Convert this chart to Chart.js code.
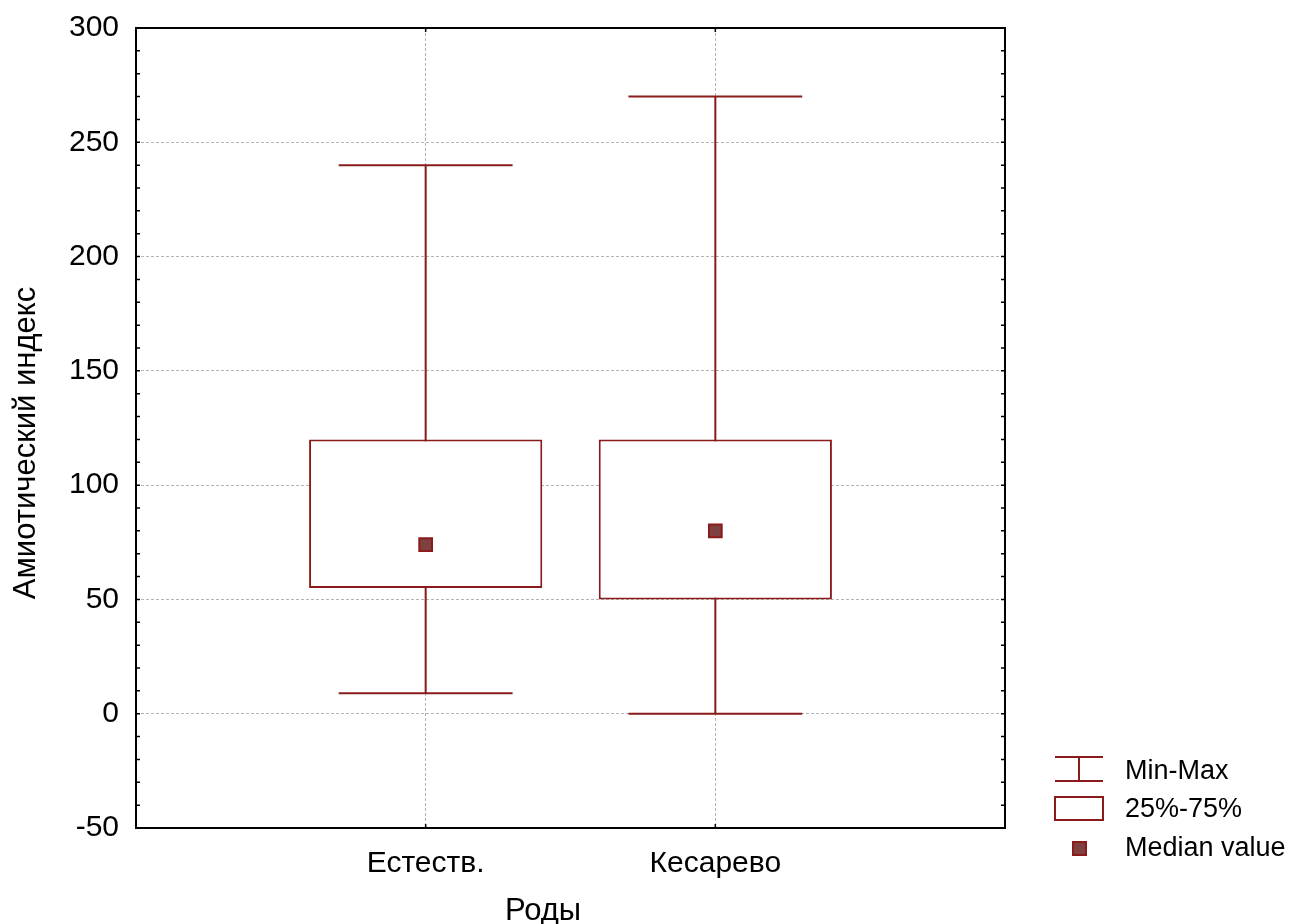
<!DOCTYPE html>
<html>
<head>
<meta charset="utf-8">
<script src="https://cdn.jsdelivr.net/npm/chart.js@4/dist/chart.umd.min.js"></script>
<style>
  html, body { margin: 0; padding: 0; background: #fff; }
  #wrap { width: 1291px; height: 924px; }
</style>
</head>
<body>
<div id="wrap"><canvas id="c" width="1291" height="924"></canvas></div>
<script>
// Amniotic index by mode of delivery
const categories = ['', 'Естеств.', 'Кесарево', ''];
const minValues = [null, 9, 0, null];
const q1Values = [null, 55, 50, null];
const medianValues = [null, 74, 80, null];
const q3Values = [null, 120, 120, null];
const maxValues = [null, 240, 270, null];
const yTickLabels = [-50, 0, 50, 100, 150, 200, 250, 300];

const xTitle = 'Роды';
const yTitle = 'Амиотический индекс';
const legendLabels = ['Min-Max', '25%-75%', 'Median value'];

const RED = '#8b1a1a';
const MED_FILL = '#7e4040';
const GRID = '#b4b4b4';
const FONT = '"Liberation Sans", Arial, sans-serif';

// whiskers (min-max) with caps, plot frame, inward ticks, titles and legend
const boxPlotExtras = {
  id: 'boxPlotExtras',
  beforeDatasetsDraw(chart) {
    const ctx = chart.ctx, xs = chart.scales.x, ys = chart.scales.y;
    const cat = xs.getPixelForValue(1) - xs.getPixelForValue(0);
    ctx.save();
    ctx.strokeStyle = RED;
    ctx.lineWidth = 2;
    for (let i = 0; i < categories.length; i++) {
      if (minValues[i] == null) continue;
      const x = xs.getPixelForValue(i);
      const yMin = ys.getPixelForValue(minValues[i]);
      const yMax = ys.getPixelForValue(maxValues[i]);
      const half = cat * 0.3;
      ctx.beginPath();
      ctx.moveTo(x, yMin); ctx.lineTo(x, yMax);
      ctx.moveTo(x - half, yMin); ctx.lineTo(x + half, yMin);
      ctx.moveTo(x - half, yMax); ctx.lineTo(x + half, yMax);
      ctx.stroke();
    }
    ctx.restore();
  },
  afterDraw(chart) {
    const ctx = chart.ctx, a = chart.chartArea, xs = chart.scales.x, ys = chart.scales.y;
    ctx.save();
    // frame
    ctx.strokeStyle = '#000';
    ctx.lineWidth = 2;
    ctx.strokeRect(a.left, a.top, a.right - a.left, a.bottom - a.top);
    // inward tick marks on left and right
    ctx.lineWidth = 1.5;
    ctx.beginPath();
    ys.ticks.forEach(t => {
      const y = ys.getPixelForValue(t.value);
      const len = 4;
      ctx.moveTo(a.left, y); ctx.lineTo(a.left + len, y);
      ctx.moveTo(a.right, y); ctx.lineTo(a.right - len, y);
    });
    for (let i = 1; i < categories.length - 1; i++) {
      const x = xs.getPixelForValue(i);
      ctx.moveTo(x, a.bottom); ctx.lineTo(x, a.bottom - 4);
      ctx.moveTo(x, a.top); ctx.lineTo(x, a.top + 4);
    }
    ctx.stroke();

    // axis titles
    ctx.fillStyle = '#000';
    ctx.font = '31px ' + FONT;
    ctx.textAlign = 'center';
    ctx.textBaseline = 'alphabetic';
    ctx.fillText(xTitle, 543, 920);
    ctx.save();
    ctx.translate(35, 443);
    ctx.rotate(-Math.PI / 2);
    ctx.fillText(yTitle, 0, 0);
    ctx.restore();

    // legend
    ctx.strokeStyle = RED;
    ctx.lineWidth = 2;
    ctx.beginPath();
    ctx.moveTo(1055, 757); ctx.lineTo(1103, 757);
    ctx.moveTo(1055, 781); ctx.lineTo(1103, 781);
    ctx.moveTo(1079, 757); ctx.lineTo(1079, 781);
    ctx.stroke();
    ctx.fillStyle = '#fff';
    ctx.fillRect(1055, 797, 48, 23);
    ctx.strokeRect(1055, 797, 48, 23);
    ctx.fillStyle = MED_FILL;
    ctx.fillRect(1073, 842, 13, 13);
    ctx.strokeRect(1073, 842, 13, 13);

    ctx.fillStyle = '#000';
    ctx.font = '27px ' + FONT;
    ctx.textAlign = 'left';
    ctx.textBaseline = 'middle';
    ctx.fillText(legendLabels[0], 1125, 772);
    ctx.fillText(legendLabels[1], 1125, 810);
    ctx.fillText(legendLabels[2], 1125, 849);
    ctx.restore();
  }
};

const boxData = categories.map((c, i) => q1Values[i] == null ? null : [q1Values[i], q3Values[i]]);

function noOverflow(s) {
  s.paddingTop = 0; s.paddingBottom = 0; s.paddingLeft = 0; s.paddingRight = 0;
}

new Chart(document.getElementById('c'), {
  data: {
    labels: categories,
    datasets: [
      {
        type: 'bar',
        label: legendLabels[1],
        data: boxData,
        backgroundColor: '#ffffff',
        borderColor: RED,
        borderWidth: 2,
        borderSkipped: false,
        categoryPercentage: 1,
        barPercentage: 0.805,
        order: 2
      },
      {
        type: 'line',
        label: legendLabels[2],
        data: medianValues,
        showLine: false,
        pointStyle: 'rect',
        pointRadius: 9,
        pointHoverRadius: 9,
        pointBackgroundColor: MED_FILL,
        pointBorderColor: RED,
        pointBorderWidth: 2,
        order: 1
      }
    ]
  },
  options: {
    responsive: false,
    animation: false,
    events: [],
    layout: { padding: { left: 0, right: 286, top: 28, bottom: 0 } },
    plugins: { legend: { display: false }, tooltip: { enabled: false } },
    scales: {
      x: {
        type: 'category',
        offset: false,
        afterFit(s) { s.height = 96; noOverflow(s); },
        border: { display: false, dash: [3, 2] },
        grid: {
          offset: false,
          drawTicks: false,
          color: ctx => (ctx.index === 0 || ctx.index === categories.length - 1) ? 'rgba(0,0,0,0)' : GRID,
          lineWidth: 1
        },
        ticks: {
          padding: 18,
          color: '#000',
          font: { family: FONT, size: 30 },
          maxRotation: 0,
          autoSkip: false
        }
      },
      y: {
        min: -50,
        max: 300,
        afterFit(s) { s.width = 136; noOverflow(s); },
        border: { display: false, dash: [3, 2] },
        grid: {
          drawTicks: false,
          color: ctx => {
            const v = ctx.tick && ctx.tick.value;
            return (v % 50 === 0 && v > -50 && v < 300) ? GRID : 'rgba(0,0,0,0)';
          },
          lineWidth: 1
        },
        ticks: {
          stepSize: 10,
          autoSkip: false,
          padding: 17,
          color: '#000',
          font: { family: FONT, size: 30 },
          callback: v => yTickLabels.includes(v) ? String(v) : ''
        }
      }
    }
  },
  plugins: [boxPlotExtras]
});
</script>
</body>
</html>
